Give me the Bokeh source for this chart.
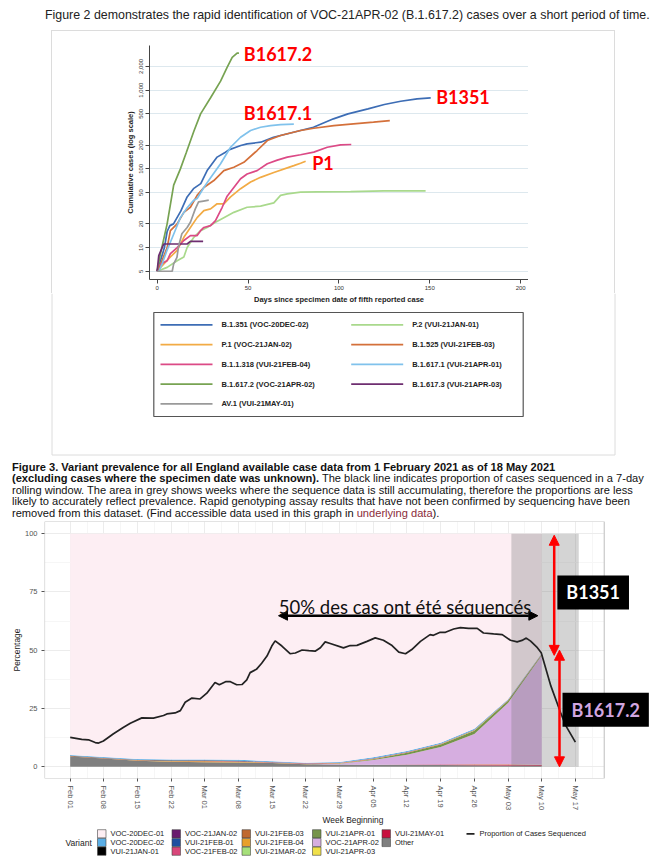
import numpy as np
from bokeh.plotting import figure
from bokeh.models import (Range1d, FixedTicker, Label, Arrow, NormalHead, Div, ColumnDataSource, Spacer)
from bokeh.layouts import column, row
from bokeh.embed import file_html
from bokeh.resources import INLINE
from bokeh.core.properties import value

# ---------------- Figure 2 data (cumulative cases, log scale) ----------------
b1351_days = [0, 2, 4, 5.5, 7, 9, 13, 16.5, 20, 24, 27.5, 33, 37.6, 39.4, 46, 49.5, 57, 64, 75, 86, 97, 105, 116, 125, 134, 143, 150.5]
b1351_cases = [5, 7, 10, 16, 19, 20, 29, 44, 56, 65, 95, 141, 163, 174, 198, 208, 218, 252, 292, 338, 432, 500, 578, 657, 723, 775, 798]

p2_days = [0, 5.5, 11, 14.7, 16.5, 20.2, 23.9, 27.5, 32.1, 36.7, 42.2, 49.5, 56.9, 64.2, 67.9, 71.6, 78.9, 88, 106.4, 124.8, 147.7]
p2_cases = [5, 5.6, 6.8, 7.6, 10, 13.5, 16.4, 18, 21, 24, 28, 32.5, 33.6, 37, 46, 48, 50.5, 51, 51.5, 52.5, 52.5]

p1_days = [0, 3.7, 7.3, 11, 14.7, 18.3, 22, 25.7, 29.4, 33, 36.7, 40.4, 45.9, 51.4, 56.9, 64.2, 71.6, 75.2, 78.9, 81.7]
p1_cases = [5, 6.2, 7.6, 9.2, 13.5, 18, 24, 29.5, 31, 36, 36, 44, 56, 68, 78, 90, 103, 110, 118, 125]

b1525_days = [0, 2, 5.5, 7.3, 11, 14.7, 18.3, 22, 25.7, 31.2, 36.7, 42.2, 47.7, 55, 60.6, 67.9, 78.9, 86.2, 97.2, 108, 119, 128]
b1525_cases = [5, 6.2, 10, 16.4, 20, 28, 32.5, 46, 58, 71, 95, 105, 121, 171, 229, 265, 307, 328, 355, 373, 392, 411]

b11318_days = [0, 1, 5.5, 7.3, 11, 14.7, 18.3, 22, 23.9, 25.7, 29.4, 32.1, 35.8, 38.5, 42.2, 45.9, 49.5, 55, 60.6, 66.1, 71.6, 78.9, 86.2, 93.6, 100.9, 106.8]
b11318_cases = [5, 6, 6.8, 8.4, 10, 12.3, 14.2, 14.2, 16.4, 18, 19, 22, 32.5, 45, 58, 75, 86, 95, 116, 129, 141, 151, 163, 188, 202, 204]

b16171_days = [0, 1, 2.75, 5.5, 9.2, 12.8, 16.5, 20.2, 22, 25.7, 29.4, 34.9, 40.4, 45.9, 51.4, 56.9, 62.4, 67.9, 75.2]
b16171_cases = [5, 5, 6.2, 9.3, 15, 24, 32, 40, 42, 58, 77, 116, 188, 252, 307, 338, 355, 365, 370]

b16172_days = [0, 1.8, 5.5, 9.1, 12.8, 16, 20.2, 23.9, 29.4, 34.9, 38.5, 41.3, 44, 45]
b16172_cases = [5, 8.3, 20, 62, 100, 160, 300, 500, 800, 1300, 1950, 2600, 2950, 2950]

b16173_days = [0, 0.9, 3.6, 16.5, 18.3, 25.3]
b16173_cases = [5, 7.9, 11.1, 11.1, 12, 12]

av1_days = [0, 8.3, 9.1, 10.9, 11.8, 13.6, 16.5, 18.3, 21, 22.8, 25.5, 28.4]
av1_cases = [5, 5, 6.2, 7.5, 10.4, 15, 18, 21, 31, 38, 39, 40]

fig2_names = ["B.1.351 (VOC-20DEC-02)", "P.2 (VUI-21JAN-01)", "P.1 (VOC-21JAN-02)", "B.1.525 (VUI-21FEB-03)",
              "B.1.1.318 (VUI-21FEB-04)", "B.1.617.1 (VUI-21APR-01)", "B.1.617.2 (VOC-21APR-02)",
              "B.1.617.3 (VUI-21APR-03)", "AV.1 (VUI-21MAY-01)"]
fig2_colors = ["#3d6db5", "#a9d98c", "#f2ab45", "#d4703a", "#dc4a86", "#80c2ec", "#77a352", "#6e2e70", "#9a9a9a"]
fig2_days = [b1351_days, p2_days, p1_days, b1525_days, b11318_days, b16171_days, b16172_days, b16173_days, av1_days]
fig2_cases = [b1351_cases, p2_cases, p1_cases, b1525_cases, b11318_cases, b16171_cases, b16172_cases, b16173_cases, av1_cases]

fig2_yticks = [5, 10, 20, 50, 100, 200, 500, 1000, 2000]
fig2_ylabels = ["5", "10", "20", "50", "100", "200", "500", "1,000", "2,000"]
fig2_xticks = [0, 50, 100, 150, 200]

# ---------------- Figure 3 data (weekly variant prevalence, %) ----------------
week_days = [0, 7, 14, 21, 28, 35, 42, 49, 56, 63, 70, 77, 84, 91, 98]
# stacked from bottom to top
other      = [4.4, 3.6, 2.6, 2.2, 2.0, 1.9, 1.6, 1.1, 1.0, 0.9, 0.9, 0.8, 0.7, 0.6, 0.5]
vui21may01 = [0, 0, 0, 0, 0, 0, 0, 0, 0, 0, 0.1, 0.2, 0.3, 0.4, 0.3]
vui21apr03 = [0, 0, 0, 0, 0, 0, 0, 0, 0, 0, 0, 0.05, 0.1, 0.1, 0.1]
voc21apr02 = [0, 0, 0, 0, 0, 0, 0, 0, 0.3, 2.0, 4.2, 7.5, 13.0, 26.3, 46.8]
vui21apr01 = [0, 0, 0, 0, 0, 0, 0, 0, 0.1, 0.4, 0.8, 1.0, 1.4, 0.9, 0.5]
vui21mar02 = [0, 0, 0, 0, 0, 0, 0, 0, 0, 0, 0, 0.05, 0.05, 0.05, 0]
vui21feb04 = [0, 0, 0.1, 0.2, 0.3, 0.2, 0.2, 0.1, 0.1, 0.1, 0.1, 0.1, 0.1, 0.1, 0.1]
vui21feb03 = [0.2, 0.2, 0.2, 0.2, 0.2, 0.2, 0.1, 0.1, 0.1, 0.1, 0.1, 0.1, 0.1, 0.1, 0.05]
voc21feb02 = [0, 0, 0, 0.05, 0.1, 0.1, 0.1, 0.1, 0.1, 0.1, 0.1, 0.1, 0.1, 0.1, 0.1]
vui21feb01 = [0.1, 0.1, 0.1, 0.1, 0.1, 0.1, 0.05, 0.05, 0.05, 0.05, 0, 0, 0, 0, 0]
voc21jan02 = [0, 0, 0, 0, 0.05, 0.05, 0.05, 0.05, 0.05, 0.05, 0.05, 0.05, 0.05, 0.05, 0.05]
vui21jan01 = [0.05, 0.05, 0.05, 0.05, 0.05, 0.05, 0, 0, 0, 0, 0, 0, 0, 0, 0]
voc20dec02 = [0.3, 0.3, 0.3, 0.3, 0.4, 0.4, 0.3, 0.3, 0.3, 0.4, 0.4, 0.4, 0.4, 0.3, 0.2]

variant_names = ["Other", "VUI-21MAY-01", "VUI-21APR-03", "VOC-21APR-02", "VUI-21APR-01", "VUI-21MAR-02",
                 "VUI-21FEB-04", "VUI-21FEB-03", "VOC-21FEB-02", "VUI-21FEB-01", "VOC-21JAN-02",
                 "VUI-21JAN-01", "VOC-20DEC-02", "VOC-20DEC-01"]
variant_colors = ["#7f7f7f", "#c8103e", "#f0e04a", "#d6aee0", "#76944a", "#a6e07a",
                  "#e8a02a", "#c0682e", "#d9467a", "#1f4fa0", "#6a1b6e",
                  "#000000", "#5aaee6", "#fdeef3"]
variant_series = [other, vui21may01, vui21apr03, voc21apr02, vui21apr01, vui21mar02,
                  vui21feb04, vui21feb03, voc21feb02, vui21feb01, voc21jan02, vui21jan01, voc20dec02]

seq_days = [0, 2.4, 3.8, 5.2, 5.9, 6.9, 9, 11.1, 12.5, 14.9, 17.3, 19.4, 20.1, 21.8, 22.9, 23.9, 25.3, 27, 28.4,
            30.1, 31, 32.4, 33.3, 34.6, 35.7, 36.7, 37.4, 38.7, 39.8, 40.9, 41.9, 42.6, 44, 45.7, 46.8, 48.2, 49.6,
            50.9, 52, 53, 54.05, 56.8, 58.2, 59.6, 61.7, 63.4, 65.1, 66.9, 68.3, 69.7, 71, 72.8, 74.8, 75.5, 76.9,
            78, 79.7, 81.1, 82.8, 84.6, 85.9, 88, 89.8, 91.5, 92.9, 93.9, 94.8, 95.7, 97.1, 97.9, 99.9, 101.9, 103, 105]
seq_pct = [12.6, 11.8, 11.6, 10.4, 10.2, 11.1, 14.2, 17.0, 18.7, 21.0, 20.9, 22.0, 22.7, 23.1, 24.1, 27.7, 29.5, 29.1, 31.6,
           36.2, 35.2, 36.6, 36.5, 35.2, 35.3, 37.3, 40.4, 41.8, 44.4, 47.5, 51.8, 54.0, 51.8, 48.5, 48.8, 50.1, 49.8,
           49.6, 51.1, 53.6, 52.9, 51.0, 52.0, 52.1, 53.8, 55.3, 54.3, 52.0, 49.2, 48.5, 50.3, 53.8, 56.7, 56.4, 57.7,
           57.7, 59.1, 59.7, 59.4, 59.4, 57.4, 57.0, 56.7, 54.3, 53.6, 54.2, 55.2, 53.9, 51.1, 48.9, 34.7, 23.4, 17.7, 10.6]

grey_window = [91.7, 105.7]
week_ticks = [0, 7, 14, 21, 28, 35, 42, 49, 56, 63, 70, 77, 84, 91, 98, 105]
week_labels = ["Feb 01", "Feb 08", "Feb 15", "Feb 22", "Mar 01", "Mar 08", "Mar 15", "Mar 22", "Mar 29",
               "Apr 05", "Apr 12", "Apr 19", "Apr 26", "May 03", "May 10", "May 17"]
pct_ticks = [0, 25, 50, 75, 100]

legend_cols = [["VOC-20DEC-01", "VOC-20DEC-02", "VUI-21JAN-01"],
               ["VOC-21JAN-02", "VUI-21FEB-01", "VOC-21FEB-02"],
               ["VUI-21FEB-03", "VUI-21FEB-04", "VUI-21MAR-02"],
               ["VUI-21APR-01", "VOC-21APR-02", "VUI-21APR-03"],
               ["VUI-21MAY-01", "Other"]]

ARIAL = "Liberation Sans"
W = 661
LB = 44   # common left border of all plots (frames aligned)
FRAME_COL = "#dcdcdc"   # faint border round the Figure 2 picture

# ---------------- Title 1 ----------------
title1 = Div(text="Figure 2 demonstrates the rapid identification of VOC-21APR-02 (B.1.617.2) cases over a short period of time.",
             width=W, height=30, margin=(0, 0, 0, 0),
             styles={"font-family": ARIAL, "font-size": "12.4px", "color": "#222", "white-space": "nowrap",
                     "padding-left": "45px", "padding-top": "8px", "line-height": "14px", "box-sizing": "border-box",
                     "height": "30px", "overflow": "hidden"})
top_line = row(Spacer(width=51, height=1),
               Div(text="", width=564, height=1, margin=(0, 0, 0, 0),
                   styles={"background-color": FRAME_COL, "height": "1px"}),
               Spacer(width=W - 51 - 564, height=1), spacing=0)

# ---------------- Figure 2 chart ----------------
p1 = figure(width=LB + 379, height=262, x_range=Range1d(-4.2, 204.3), y_range=Range1d(3.93, 3690), y_axis_type="log",
            output_backend="svg", toolbar_location=None, title=None,
            min_border_left=LB, min_border_right=0, min_border_top=14, min_border_bottom=14)
p1.outline_line_color = None
p1.xgrid.grid_line_color = None
p1.ygrid.ticker = FixedTicker(ticks=fig2_yticks)
p1.ygrid.grid_line_color = "#dde8ee"
p1.yaxis.ticker = FixedTicker(ticks=fig2_yticks)
p1.yaxis.major_label_overrides = {t: l for t, l in zip(fig2_yticks, fig2_ylabels)}
p1.xaxis.ticker = FixedTicker(ticks=fig2_xticks)
for ax in (p1.xaxis, p1.yaxis):
    ax.axis_line_color = "#444"
    ax.major_tick_line_color = "#444"
    ax.major_tick_out = 4
    ax.major_tick_in = 0
    ax.minor_tick_line_color = None
    ax.major_label_text_font = ARIAL
    ax.major_label_text_font_size = "6px"
    ax.major_label_text_color = "#333"
    ax.axis_label_text_font = ARIAL
    ax.axis_label_text_font_size = "7.5px"
    ax.axis_label_text_font_style = "bold"
    ax.axis_label_text_color = "#222"
    ax.major_label_standoff = 2
    ax.axis_label_standoff = 2
p1.yaxis.major_label_orientation = "vertical"
p1.yaxis.axis_label = "Cumulative cases (log scale)"

for d, c, col in zip(fig2_days, fig2_cases, fig2_colors):
    p1.line(d, c, line_color=col, line_width=1.7)

for txt, x, y in [("B1617.2", 47.7, 2918), ("B1351", 153.5, 829), ("B1617.1", 47.7, 505), ("P1", 85.3, 120)]:
    p1.add_layout(Label(x=x, y=y, text=txt, text_color="#ff0000", text_font="Lato", text_font_style="bold",
                        text_font_size="18px", text_baseline="middle", text_align="left"))

left_side = row(Spacer(width=51, height=262),
                Div(text="", width=54, height=262, margin=(0, 0, 0, 0),
                    styles={"border-left": "1px solid " + FRAME_COL, "box-sizing": "border-box", "height": "262px"}),
                spacing=0)
right_w = W - 105 - (LB + 379)
right_side = row(Div(text="", width=87, height=262, margin=(0, 0, 0, 0),
                     styles={"border-right": "1px solid " + FRAME_COL, "box-sizing": "border-box", "height": "262px"}),
                 Spacer(width=right_w - 87, height=262), spacing=0)
top_row = row(left_side, p1, right_side, spacing=0)

# ---------------- Figure 2 x title + legend ----------------
lg1 = figure(width=W, height=167, x_range=Range1d(LB, W), y_range=Range1d(460, 293),
             output_backend="svg", toolbar_location=None, x_axis_location=None, y_axis_location=None,
             title=None, min_border_left=LB, min_border_right=0, min_border_top=0, min_border_bottom=0)
lg1.outline_line_color = None
lg1.grid.visible = False
lg1.segment(x0=[51.5, 614.5, 51.5], y0=[293, 293, 454.5], x1=[51.5, 614.5, 614.5], y1=[454.5, 454.5, 454.5],
            line_color=FRAME_COL, line_width=1)
lg1.text(x=[338.5], y=[298.5], text=["Days since specimen date of fifth reported case"], text_font=value(ARIAL),
         text_font_style="bold", text_font_size="7.5px", text_align="center", text_baseline="middle",
         text_color="#222")
lg1.quad(left=[153.3], right=[522.7], top=[312], bottom=[416], fill_color=None, line_color="#555", line_width=1.2)
order1 = [0, 2, 4, 6, 8]   # left column
order2 = [1, 3, 5, 7]      # right column
lx0, lx1, ly, lt, lc, tx, ty = [], [], [], [], [], [], []
for col_idx, idxs in enumerate([order1, order2]):
    for r, i in enumerate(idxs):
        y = 324.3 + r * 19.75
        x0 = 160 if col_idx == 0 else 350.7
        lx0.append(x0); lx1.append(x0 + 52); ly.append(y); lc.append(fig2_colors[i])
        tx.append(x0 + 61); ty.append(y); lt.append(fig2_names[i])
lg1.segment(x0=lx0, y0=ly, x1=lx1, y1=ly, line_color=lc, line_width=1.7)
lg1.text(x=tx, y=ty, text=lt, text_font=value(ARIAL), text_font_style="bold", text_font_size="7.5px",
         text_baseline="middle", text_color="#222")

# ---------------- Caption for Figure 3 ----------------
cap = ('<b>Figure 3. Variant prevalence for all England available case data from 1 February 2021 as of 18 May 2021</b><br>'
       '<b>(excluding cases where the specimen date was unknown).</b> The black line indicates proportion of cases sequenced in a 7-day<br>'
       'rolling window. The area in grey shows weeks where the sequence data is still accumulating, therefore the proportions are less<br>'
       'likely to accurately reflect prevalence. Rapid genotyping assay results that have not been confirmed by sequencing have been<br>'
       'removed from this dataset. (Find accessible data used in this graph in <span style="color:#8b2c3a">underlying data</span>).')
caption = Div(text=cap, width=W, height=60, margin=(0, 0, 0, 0),
              styles={"font-family": ARIAL, "font-size": "11.1px", "color": "#111", "white-space": "nowrap",
                      "padding-left": "12px", "padding-top": "1.5px", "line-height": "11.5px", "box-sizing": "border-box",
                      "height": "60px", "overflow": "hidden"})

# ---------------- Figure 3 chart ----------------
p2 = figure(width=W, height=308, x_range=Range1d(-5.34, 122.9), y_range=Range1d(-5.0, 105.2),
            output_backend="svg", toolbar_location=None, title=None,
            min_border_left=LB, min_border_right=0, min_border_top=1, min_border_bottom=48)
p2.outline_line_color = None
p2.xaxis.ticker = FixedTicker(ticks=week_ticks, minor_ticks=[t + 3.5 for t in week_ticks])
p2.xaxis.major_label_overrides = {t: l for t, l in zip(week_ticks, week_labels)}
p2.yaxis.ticker = FixedTicker(ticks=pct_ticks, minor_ticks=[-12.5, 12.5, 37.5, 62.5, 87.5, 112.5])
p2.xgrid.ticker = p2.xaxis.ticker
p2.ygrid.ticker = p2.yaxis.ticker
for g in (p2.xgrid, p2.ygrid):
    g.grid_line_color = "#ececec"
    g.minor_grid_line_color = "#f6f6f6"
for ax in (p2.xaxis, p2.yaxis):
    ax.axis_line_color = None
    ax.major_tick_line_color = "#555"
    ax.major_tick_out = 3
    ax.major_tick_in = 0
    ax.minor_tick_line_color = None
    ax.major_label_text_font = ARIAL
    ax.major_label_text_font_size = "7.5px"
    ax.major_label_text_color = "#555"
    ax.axis_label_text_font = ARIAL
    ax.axis_label_text_font_size = "8.4px"
    ax.axis_label_text_font_style = "normal"
    ax.axis_label_text_color = "#222"
    ax.major_label_standoff = 3
    ax.axis_label_standoff = 2
p2.yaxis.axis_label_standoff = 0
p2.xaxis.major_label_orientation = "vertical"
p2.xaxis.axis_label = "Week Beginning"
p2.yaxis.axis_label = "Percentage"

data = {"x": week_days}
arr = np.array(variant_series, dtype=float)
for n, s in zip(variant_names[:-1], variant_series):
    data[n] = s
data[variant_names[-1]] = list(100 - arr.sum(axis=0))
src = ColumnDataSource(data)
p2.varea_stack(stackers=variant_names, x="x", color=variant_colors, source=src)

p2.quad(left=[grey_window[0]], right=[grey_window[1]], bottom=[0], top=[100],
        fill_color="#7a7a7a", fill_alpha=0.32, line_color=None)
p2.line(seq_days, seq_pct, line_color="#222", line_width=1.7)

# panel limits (the frame extends further right to hold the annotation boxes)
panel_x = [-5.34, 111.0]
panel_y = [-5.0, 105.2]
p2.quad(left=[panel_x[1]], right=[130], bottom=[-10], top=[110], fill_color="white", line_color=None)
p2.quad(left=[panel_x[0]], right=[panel_x[1]], bottom=[panel_y[0]], top=[panel_y[1]],
        fill_color=None, line_color="#c8c8c8", line_width=1.2)

p2.add_layout(Arrow(start=NormalHead(size=9, fill_color="black", line_color="black"),
                    end=NormalHead(size=9, fill_color="black", line_color="black"),
                    x_start=43.3, y_start=64.8, x_end=97.2, y_end=64.8, line_color="black", line_width=2.5))
p2.add_layout(Label(x=69.6, y=68.6, text="50% des cas ont été séquencés", text_font="Lato", text_font_size="18.5px",
                    text_color="#111", text_align="center", text_baseline="alphabetic"))
p2.add_layout(Arrow(start=NormalHead(size=10, fill_color="red", line_color="red"),
                    end=NormalHead(size=10, fill_color="red", line_color="red"),
                    x_start=100.6, y_start=99.3, x_end=100.6, y_end=47.8, line_color="red", line_width=2.5))
p2.add_layout(Arrow(start=NormalHead(size=10, fill_color="red", line_color="red"),
                    end=NormalHead(size=10, fill_color="red", line_color="red"),
                    x_start=101.7, y_start=50.0, x_end=101.7, y_end=0.0, line_color="red", line_width=2.5))
p2.add_layout(Label(x=108.7, y=74.8, text="B1351", text_color="white", text_font="Lato", text_font_style="bold",
                    text_font_size="18px", text_align="center", text_baseline="middle",
                    background_fill_color="black", padding=dict(left=9, right=9, top=6, bottom=6)))
p2.add_layout(Label(x=111.3, y=24.5, text="B1617.2", text_color="#d2a6e0", text_font="Lato", text_font_style="bold",
                    text_font_size="18px", text_align="center", text_baseline="middle",
                    background_fill_color="black", padding=dict(left=9, right=9, top=6, bottom=6)))

# ---------------- Figure 3 legend ----------------
lg2 = figure(width=W, height=35, x_range=Range1d(LB, W), y_range=Range1d(863, 828),
             output_backend="svg", toolbar_location=None, x_axis_location=None, y_axis_location=None,
             title=None, min_border_left=LB, min_border_right=0, min_border_top=0, min_border_bottom=0)
lg2.outline_line_color = None
lg2.grid.visible = False
box_left = [97, 171.5, 241.5, 312, 381.5]
row_y = [833.3, 842.0, 850.7]
color_of = dict(zip(variant_names, variant_colors))
bl, br, bt, bb, bc, txx, tyy, ttt = [], [], [], [], [], [], [], []
for ci, names in enumerate(legend_cols):
    for ri, n in enumerate(names):
        bl.append(box_left[ci]); br.append(box_left[ci] + 8.5)
        bt.append(row_y[ri] - 4.1); bb.append(row_y[ri] + 4.1); bc.append(color_of[n])
        txx.append(box_left[ci] + 13); tyy.append(row_y[ri]); ttt.append(n)
lg2.quad(left=bl, right=br, top=bt, bottom=bb, fill_color=bc, line_color="#444", line_width=0.6)
lg2.text(x=txx, y=tyy, text=ttt, text_font=value(ARIAL), text_font_size="7.5px", text_baseline="middle",
         text_color="#222")
lg2.text(x=[65], y=[842.0], text=["Variant"], text_font=value(ARIAL), text_font_size="8.5px",
         text_baseline="middle", text_color="#222")
lg2.segment(x0=[466], y0=[833.3], x1=[474], y1=[833.3], line_color="#222", line_width=1.7)
lg2.text(x=[479], y=[833.3], text=["Proportion of Cases Sequenced"], text_font=value(ARIAL), text_font_size="7.5px",
         text_baseline="middle", text_color="#222")

layout = column(title1, top_line, top_row, lg1, caption, p2, lg2, spacing=0)
open("out.html", "w").write(file_html(layout, INLINE))
